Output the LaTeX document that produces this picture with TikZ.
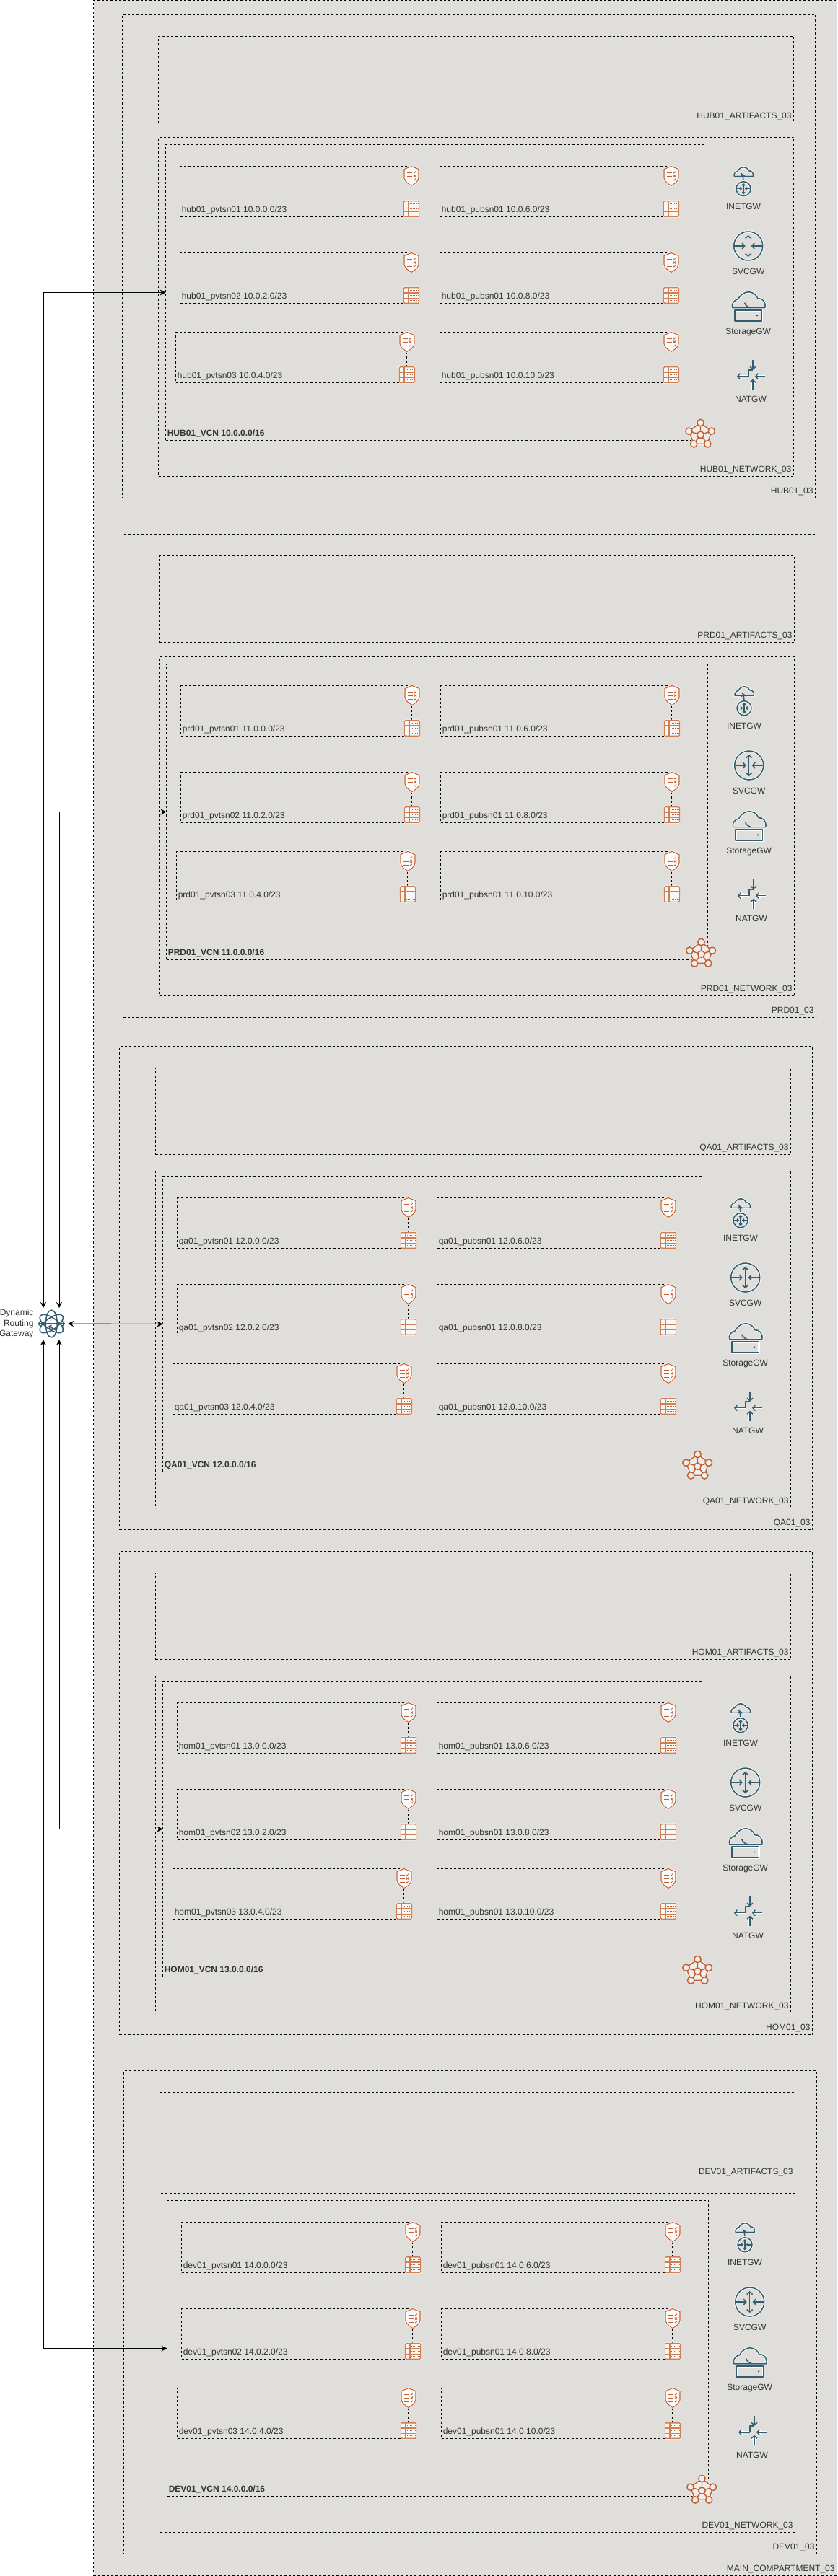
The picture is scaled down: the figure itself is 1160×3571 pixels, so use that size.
\documentclass[tikz,border=0pt]{standalone}
\usepackage{fontspec}
\setmainfont{Liberation Sans}
\usetikzlibrary{arrows.meta}

\definecolor{envfill}{HTML}{DFDEDB}
\definecolor{ocirust}{HTML}{C4602F}
\definecolor{ocisand}{HTML}{D07F55}
\definecolor{ocisteel}{HTML}{315D6E}
\definecolor{lblgray}{HTML}{333333}

\tikzset{
    sized/.style 2 args={minimum width=#1*0.75pt, minimum height=#2*0.75pt},
    area/.style={draw, line width=.75pt, dash pattern=on 2.25pt off 2.25pt, anchor=north west, inner sep=0pt, outer sep=0pt},
    lblleft/.style={anchor=west, inner sep=0pt, xshift=1.5pt, yshift=7.5pt, text height=6.5pt, text depth=0pt},
    lblright/.style={anchor=east, inner sep=0pt, xshift=-2pt, yshift=7.5pt, text height=6.5pt, text depth=0pt},
    gwlabel/.style={inner sep=0pt, text height=6.5pt, text depth=0pt},
    link/.style={arrows={Stealth[length=6pt,width=6pt]-Stealth[length=6pt,width=6pt]}, line width=.75pt},
    steel/.style={draw=ocisteel, line width=1.15pt, line join=round},
    halo/.style={preaction={draw=white, line width=2.4pt}},
    barb/.style={arrows={-Straight Barb[length=2.6pt,width=6pt,scale=#1]}},
    % security list
    shieldicon/.pic={
        \draw[ocirust, line width=.8pt, fill=white!85!envfill, line join=round, preaction={draw=white, line width=1.8pt}]
            (0,-13.5) -- (10,-9.5) -- (10,3) .. controls (9,8) and (4,11) .. (0,13.5)
            .. controls (-4,11) and (-9,8) .. (-10,3) -- (-10,-9.5) -- cycle;
        \draw[ocirust, line width=.6pt] (-6.5,-5) -- (1,-5) (-6.5,0) -- (1,0) (-6.5,5) -- (1,5);
        \draw[ocirust, line width=.6pt] (3,-5) -- (4,-4) -- (6,-6.5) (3,-1.5) -- (6,1.5) (6,-1.5) -- (3,1.5) (3,5) -- (4,6) -- (6,3.5);
    },
    % route table
    tableicon/.pic={
        \draw[ocisand, line width=1pt, fill=white!75!envfill, rounded corners=1pt, preaction={draw=white, line width=1.8pt}] (-10.7,-10.7) rectangle (10.7,10.7);
        \draw[ocisand, line width=.9pt] (-10.7,-3.6) -- (10.7,-3.6) (-10.7,3.6) -- (10.7,3.6) (-4,-10.7) -- (-4,10.7);
        \draw[ocirust, line width=.8pt, dash pattern=on .8pt off .8pt] (-2,-7) -- (9,-7) (-2,0) -- (9,0) (-2,7) -- (9,7);
    },
    cloudicon/.pic={
        \begin{scope}[scale=#1]
        \draw[steel, halo] (-22,0) .. controls (-24,-5) and (-20,-11) .. (-14,-12) .. controls (-11,-19) and (-2,-24) .. (5,-21)
            .. controls (9,-20) and (12,-16) .. (13,-13) .. controls (19,-14) and (25,-8) .. (23,0) -- cycle;
        \draw[steel] (-5,-7) .. controls (-4,-3) and (0,-1) .. (3,0);
        \end{scope}
    },
    routericon/.pic={
        \begin{scope}[scale=#1]
        \draw[steel, halo] (0,0) circle (20);
        \draw[steel, arrows={Straight Barb[length=2.6pt,width=6pt,scale=#1]-Straight Barb[length=2.6pt,width=6pt,scale=#1]}] (0,-15) -- (0,15);
        \draw[steel, barb=#1] (-20,0) -- (-4,0);
        \draw[steel, barb=#1] (20,0) -- (4,0);
        \end{scope}
    },
    storageicon/.pic={
        \pic at (0,0) {cloudicon=1};
        \draw[steel, halo] (-18.5,3.5) rectangle (19,18.5);
        \fill[ocisteel] (12.3,10.7) circle (1.3);
    },
    naticon/.pic={
        \draw[steel, halo, barb=1] (-6,0) -- (-22,0);
        \draw[steel, barb=1] (0,-23) -- (0,-9);
        \draw[steel] (0,-8.5) -- (-6,-8.5) -- (-6,0);
        \draw[steel, halo, barb=1] (17,0) -- (3,0);
        \draw[steel, halo, barb=1] (0,18) -- (0,4);
    },
    % virtual cloud network
    vcnicon/.pic={
        \draw[ocirust, line width=1.1pt, line join=round, fill=white!50!envfill, preaction={draw=white, line width=2.4pt}]
            (0,-16.7) -- (15.3,-5) -- (9.7,12.7) -- (-9.3,12.7) -- (-16,-5) -- cycle;
        \draw[ocirust, line width=1.1pt] (0,0) -- (0,-16.7) (0,0) -- (15.3,-5) (0,0) -- (9.7,12.7) (0,0) -- (-9.3,12.7) (0,0) -- (-16,-5);
        \foreach \cx/\cy in {0/-16.7, 15.3/-5, 9.7/12.7, -9.3/12.7, -16/-5, 0/0}
            \draw[ocirust, line width=1.1pt, fill=white!50!envfill] (\cx,\cy) circle (4.7);
    },
    drgicon/.pic={
        \draw[steel] (0,0) ellipse [x radius=19, y radius=8, rotate=35];
        \draw[steel] (0,0) ellipse [x radius=19, y radius=8, rotate=-35];
        \draw[steel] (0,0) ellipse [x radius=19, y radius=8, rotate=90];
        \draw[steel, arrows={Straight Barb[length=2.6pt,width=6pt]-Straight Barb[length=2.6pt,width=6pt]}] (-19,0) -- (19,0);
        \draw[steel, barb=.7] (6,9) -- (-4,3);
    }
}

\begin{document}
\begin{tikzpicture}[x=0.75pt, y=-0.75pt,
    every node/.style={text=lblgray, font=\fontsize{9}{10.9}\selectfont}
]
\useasboundingbox (0,0) rectangle (1160,3571);

% outer compartment
\node[area, sized={1030}{3570}, fill=envfill] (main) at (129.5,0.5) {};
\node[lblright] (mainlbl) at (main.south east) {MAIN\_COMPARTMENT\_03};

% one block per environment
\foreach \envlow/\envup/\envx/\envy/\envnet in {hub/HUB/169.5/20.5/10, prd/PRD/170.5/740.5/11, qa/QA/165.5/1450.5/12, hom/HOM/165.5/2150.5/13, dev/DEV/171.5/2870.5/14} {
\begin{scope}[shift={(\envx,\envy)}]
    \node[area, sized={960}{670}] (\envlow comp) at (0,0) {};
    \node[lblright] (\envlow complbl) at (\envlow comp.south east) {\envup01\_03};

    \node[area, sized={880}{120}] (\envlow art) at (50,30) {};
    \node[lblright] (\envlow artlbl) at (\envlow art.south east) {\envup01\_ARTIFACTS\_03};

    \node[area, sized={880}{470}] (\envlow net) at (50,170) {};
    \node[lblright] (\envlow netlbl) at (\envlow net.south east) {\envup01\_NETWORK\_03};

    \node[area, sized={750}{410}] (\envlow vcn) at (60,180) {};
    \node[lblleft] (\envlow vcnlbl) at (\envlow vcn.south west) {\bfseries \envup01\_VCN \envnet.0.0.0/16};
    \pic at (801,582.2) {vcnicon};

    % subnets
    \foreach \sname/\sx/\sy/\skind/\sthird in {pvt1/80/210/pvtsn01/0, pvt2/80/330/pvtsn02/2, pvt3/74/440/pvtsn03/4, pub1/440/210/pubsn01/6, pub2/440/330/pubsn01/8, pub3/440/440/pubsn01/10} {
        \node[area, sized={320}{70}] (\envlow\sname) at (\sx,\sy) {};
        \node[lblleft] (\envlow\sname lbl) at (\envlow\sname.south west) {\envlow01\_\skind\ \envnet.0.\sthird.0/23};
        \pic at ({\sx+320.5},{\sy+13.5}) {shieldicon};
        \pic at ({\sx+320.5},{\sy+59}) {tableicon};
    }

    % gateways
    \pic at (860.5,223.9) {cloudicon=.58};
    \draw[steel, barb=.8] (860.5,231.2) -- (859.5,221);
    \pic at (860.5,241.2) {routericon=.5};
    \node[gwlabel] (\envlow inet) at (860.5,265.2) {INETGW};
    \pic at (867.2,320.5) {routericon=1};
    \node[gwlabel] (\envlow svc) at (867.2,355.2) {SVCGW};
    \pic at (867.2,406.2) {storageicon};
    \node[gwlabel] (\envlow stor) at (867.2,438.5) {StorageGW};
    \pic at (873.5,501.2) {naticon};
    \node[gwlabel] (\envlow nat) at (870.5,532.8) {NATGW};
\end{scope}
}

% dynamic routing gateway
\pic at (71.3,1835) {drgicon};
\node[anchor=east, align=right, inner sep=0pt] (drglbl) at (46.7,1835) {Dynamic\\Routing\\Gateway};
\coordinate (drgnw) at (60,1813);
\coordinate (drgne) at (82,1813);
\coordinate (drgsw) at (60,1857);
\coordinate (drgse) at (82,1857);
\coordinate (drge) at (94,1835);

\draw[link] (drgnw) |- (hubvcn.west);
\draw[link] (drgne) |- (prdvcn.west);
\draw[link] (drge) -- (qavcn.west);
\draw[link] (drgse) |- (homvcn.west);
\draw[link] (drgsw) |- (devvcn.west);

\end{tikzpicture}
\end{document}
